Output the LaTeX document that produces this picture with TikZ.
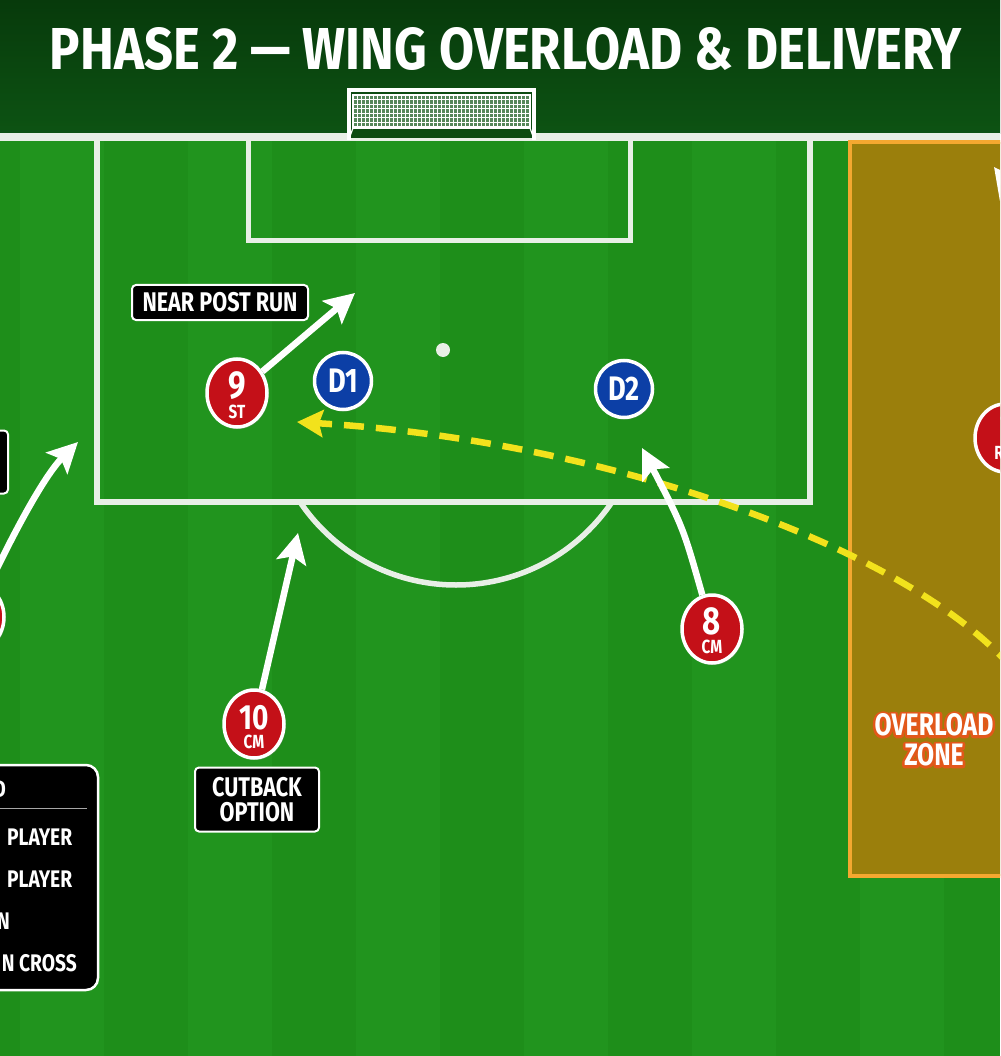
\documentclass[tikz,border=0pt]{standalone}
\usepackage{fontspec}
\usepackage{graphicx}
\newfontfamily\cf{Fira Sans}[FakeStretch=0.8]
\usetikzlibrary{arrows.meta,shapes.geometric,shadows,calc}
\definecolor{pitchA}{HTML}{1E8E1A}
\definecolor{pitchB}{HTML}{21941E}
\definecolor{hdrTop}{HTML}{073A0B}
\definecolor{hdrBot}{HTML}{0D5313}
\definecolor{zoneF}{HTML}{9B7F0C}
\definecolor{zoneB}{HTML}{F4A830}
\definecolor{attR}{HTML}{C41018}
\definecolor{defB}{HTML}{0C3FA6}
\definecolor{crossY}{HTML}{F2E21C}
\definecolor{outlO}{HTML}{E2581A}
\definecolor{goalL}{HTML}{E8EFE6}
\tikzset{
  pline/.style={goalL, line width=6pt},
  run/.style={white, line width=6.5pt, -{Stealth[length=30pt,width=30pt,inset=6pt]}},
  crossline/.style={crossY, line width=6.5pt, dash pattern=on 20pt off 12pt, -{Stealth[length=26pt,width=27pt,inset=4pt]}},
  att/.style={ellipse, minimum width=60pt, minimum height=68pt, inner sep=0pt, fill=attR, draw=white, line width=3.5pt, drop shadow={opacity=0.35,shadow xshift=1.5pt,shadow yshift=-2pt}},
  def/.style={circle, minimum size=57pt, inner sep=0pt, fill=defB, draw=white, line width=3.5pt, drop shadow={opacity=0.35,shadow xshift=1.5pt,shadow yshift=-2pt}},
  ptxt/.style={text=white, font=\cf\bfseries, text width=56pt, align=center, inner sep=0pt},
  num/.style={text=white, font=\cf\bfseries\fontsize{39}{39}\selectfont, inner sep=0pt},
  role/.style={text=white, font=\cf\bfseries\fontsize{19}{19}\selectfont, inner sep=0pt},
  dtxt/.style={text=white, font=\cf\bfseries\fontsize{34}{34}\selectfont, inner sep=0pt},
  lbl/.style={fill=black, draw=white, line width=2pt, rounded corners=4pt, text=white, font=\cf\bfseries\fontsize{27}{25}\selectfont, inner sep=0pt, align=center},
  legtxt/.style={text=white, font=\cf\bfseries\fontsize{24}{24}\selectfont, inner sep=0pt},
  ovl/.style={font=\cf\bfseries\fontsize{31}{30}\selectfont, inner sep=0pt, align=center},
}
\newcommand\strokeon{\special{pdf:literal direct 1 Tr 5 w 1 j 1 J}}
\newcommand\strokeoff{\special{pdf:literal direct 0 Tr}}
\newcommand\pstack[3]{\fontsize{#1}{#1}\selectfont #2\par\nointerlineskip\vskip5pt\fontsize{19}{19}\selectfont #3}
\begin{document}
\begin{tikzpicture}[x=1pt,y=-1pt]
\useasboundingbox (0,0) rectangle (1000,1056);
\begin{scope}
\clip (0,0) rectangle (1000,1056);
% pitch and stripes
\fill[pitchA] (0,0) rectangle (1000,1056);
\foreach \i in {0,2,...,12} {\fill[pitchB] ({20+84*\i},140) rectangle ({104+84*\i},1056);}
% header
\shade[top color=hdrTop, bottom color=hdrBot] (0,0) rectangle (1000,134);
\fill[goalL] (0,133) rectangle (1000,141);
% goal
\fill[hdrBot!90!black] (350,91) rectangle (533,138);
\fill[hdrBot!70!white] (353,95) rectangle (530,128);
\foreach \x in {353,357,...,530} {\draw[white, line width=0.7pt] (\x,95) -- (\x,128);}
\foreach \y in {95,99.5,...,128} {\draw[white, line width=0.7pt] (353,\y) -- (530,\y);}
\draw[white, line width=1.2pt] (353,95) rectangle (530,128);
\draw[white, line width=1.2pt] (353,128) -- (349,139) (530,128) -- (534,139);
\draw[white, line width=3.5pt] (349,140) -- (349,90) -- (534,90) -- (534,140);
% penalty area
\draw[pline] (97,141) -- (97,502) -- (810,502) -- (810,141);
\draw[pline, line width=5pt] (248,141) -- (248,241) -- (630,241) -- (630,141);
\fill[goalL] (443,350) circle (7pt);
\begin{scope}
\clip (0,505) rectangle (1000,700);
\draw[pline, line width=5.5pt] (456,397) circle (188pt);
\end{scope}
% overload zone
\fill[zoneF] (850,142) rectangle (1010,876);
\draw[zoneB, line width=4pt] (1010,142) -- (850,142) -- (850,876) -- (1010,876);
\coordinate (zc) at (934,740);
\node[ovl, text=outlO] (zoneOut) at (zc) {\strokeon OVERLOAD\\\strokeon ZONE\strokeoff};
\node[ovl, text=white] (zoneTxt) at (zc) {OVERLOAD\\ZONE};
% title
\node[font=\cf\bfseries, text=white, inner sep=0pt] (title) at (506,49) {\resizebox{912pt}{42pt}{PHASE 2 — WING OVERLOAD \& DELIVERY}};
% labels
\node[lbl, minimum width=176pt, minimum height=35pt] (lNear) at (220,302.5) {NEAR POST RUN};
\node[lbl, minimum width=124pt, minimum height=64pt] (lCut) at (257,799.5) {CUTBACK\\OPTION};
\node[lbl, minimum width=80pt, minimum height=63pt] (lLeft) at (-32,462) {};
% legend
\node[draw=white, fill=black, line width=2.5pt, rounded corners=12pt, minimum width=150pt, minimum height=225pt, inner sep=0pt] (legend) at (23,877.5) {};
\draw[gray!70, line width=1pt] (0,808) -- (87,808);
\node[legtxt, anchor=base east] (lg0) at (6,797) {D};
\node[legtxt, anchor=base west] (lg1) at (7,845) {PLAYER};
\node[legtxt, anchor=base west] (lg2) at (7,887) {PLAYER};
\node[legtxt, anchor=base east] (lg3) at (10,929) {N};
\node[legtxt, anchor=base east] (lg4) at (77,971) {N CROSS};
% players
\node[att] (p9) at (237,393) {};
\node[att] (p10) at (254,724) {};
\node[att] (p8) at (712,629) {};
\node[att] (p7) at (1005,438) {};
\node[att] (pL) at (-26,617) {};
\node[def] (d1) at (343,381) {};
\node[def] (d2) at (624,389) {};
% cross
\coordinate (sY) at (1012,668);
\coordinate (tY) at (297,422);
\draw[crossline] (sY) .. controls (905,545) and (600,440) .. (tY);
% runs
\coordinate (t9) at (355,293);
\draw[run] (p9) -- (t9);
\coordinate (t8) at (642,448);
\draw[run] (p8) .. controls (683,527) .. (t8);
\coordinate (t10) at (298,533);
\draw[run] (p10) -- (t10);
\coordinate (tL) at (78,442);
\draw[run] (pL) .. controls (15,530) and (45,475) .. (tL);
\coordinate (sTR) at (1060,255);
\coordinate (tTR) at (994,167);
\draw[run] (sTR) -- (tTR);
% player texts
\node[ptxt] (n9) at (237,395) {\pstack{39}{9}{ST}};
\node[ptxt] (n10) at (254,727) {\pstack{35}{10}{CM}};
\node[ptxt] (n8) at (712,631) {\pstack{39}{8}{CM}};
\node[num, font=\cf\bfseries\fontsize{24}{24}\selectfont] (n7) at (1005,426) {7};
\node[role] (r7) at (999,453) {R};
\node[dtxt] (td1) at (343,381) {D1};
\node[dtxt] (td2) at (624,389) {D2};
\end{scope}
\end{tikzpicture}
\end{document}
